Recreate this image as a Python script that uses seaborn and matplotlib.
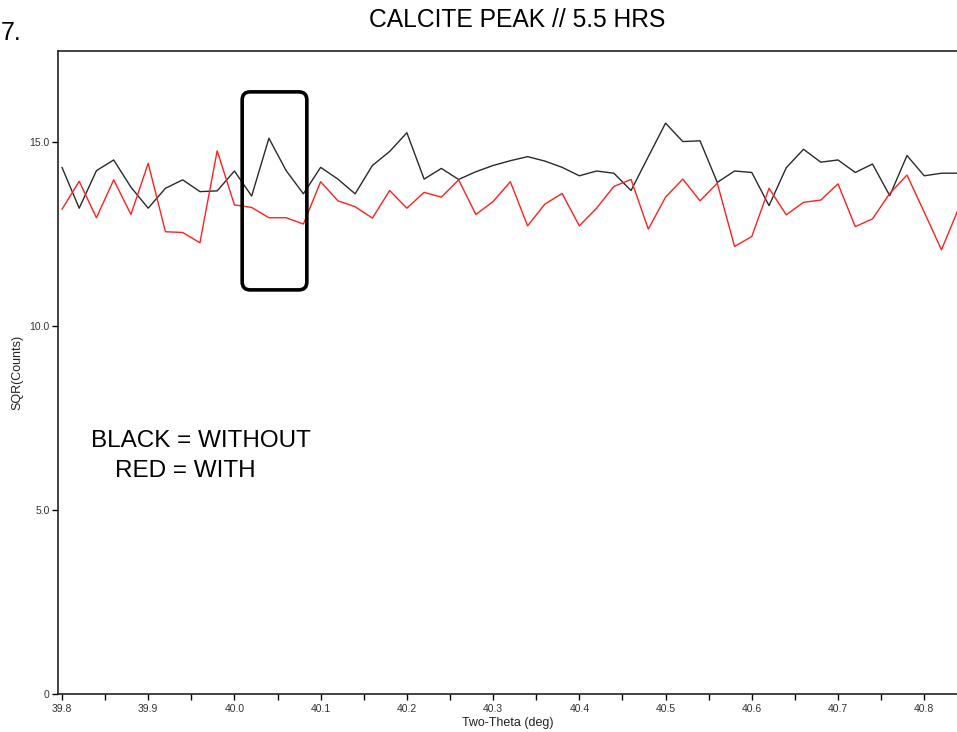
import numpy as np
import pandas as pd
import matplotlib
matplotlib.use("Agg")
import matplotlib.pyplot as plt
import matplotlib.ticker as mticker
from matplotlib.patches import FancyBboxPatch
import seaborn as sns

# ── Data ──────────────────────────────────────────────────────────────────────
TWO_THETA = [round(39.80 + 0.02 * i, 2) for i in range(53)]   # 39.80 .. 40.84

WITHOUT = [  # black trace
    14.31, 13.20, 14.22, 14.51, 13.77, 13.20, 13.74, 13.97, 13.65, 13.67,
    14.21, 13.53, 15.10, 14.22, 13.59, 14.31, 13.99, 13.59, 14.36, 14.74,
    15.25, 13.99, 14.28, 13.98, 14.19, 14.36, 14.49, 14.60, 14.48, 14.31,
    14.08, 14.21, 14.15, 13.68, 14.60, 15.51, 15.01, 15.03, 13.90, 14.21,
    14.17, 13.27, 14.30, 14.80, 14.45, 14.51, 14.17, 14.40, 13.54, 14.63,
    14.08, 14.15, 14.15,
]
WITH = [  # red trace
    13.17, 13.93, 12.94, 13.97, 13.03, 14.42, 12.56, 12.54, 12.26, 14.76,
    13.29, 13.22, 12.94, 12.94, 12.77, 13.92, 13.40, 13.24, 12.93, 13.68,
    13.20, 13.63, 13.50, 13.97, 13.03, 13.38, 13.92, 12.72, 13.31, 13.60,
    12.72, 13.20, 13.79, 13.98, 12.63, 13.50, 13.99, 13.40, 13.88, 12.16,
    12.43, 13.74, 13.02, 13.36, 13.42, 13.86, 12.70, 12.91, 13.60, 14.10,
    13.09, 12.07, 13.20,
]

X_TICKS = [39.8, 39.9, 40.0, 40.1, 40.2, 40.3, 40.4, 40.5, 40.6, 40.7, 40.8]
X_TICK_LABELS = ["39.8", "39.9", "40.0", "40.1", "40.2", "40.3", "40.4",
                 "40.5", "40.6", "40.7", "40.8"]
Y_TICKS = [0, 5, 10, 15]
Y_TICK_LABELS = ["0", "5.0", "10.0", "15.0"]

# highlighted region (deg, counts)
BOX_X = (40.009, 40.084)
BOX_Y = (10.98, 16.36)

df = pd.DataFrame({"two_theta": TWO_THETA, "without": WITHOUT, "with": WITH})

# ── Plot ──────────────────────────────────────────────────────────────────────
sns.set_style("white")
plt.rcParams["font.family"] = ["Liberation Sans", "DejaVu Sans"]

fig = plt.figure(figsize=(9.57, 7.32), dpi=100)
ax = fig.add_axes([0.0606, 0.0519, 0.9394, 0.8784])

sns.lineplot(data=df, x="two_theta", y="without", ax=ax, color="#2a2a2a",
             linewidth=1.0)
sns.lineplot(data=df, x="two_theta", y="with", ax=ax, color="#ff2020",
             linewidth=1.0)

ax.set_xlim(39.7954, 40.838)
ax.set_ylim(0, 17.47)

ax.set_xticks(X_TICKS)
ax.set_xticklabels(X_TICK_LABELS)
ax.xaxis.set_minor_locator(mticker.MultipleLocator(0.05))
ax.set_yticks(Y_TICKS)
ax.set_yticklabels(Y_TICK_LABELS)

ax.tick_params(axis="both", which="both", direction="out", length=4,
               width=1.0, color="black", labelsize=7.5, labelcolor="#333333",
               pad=2)
ax.tick_params(axis="x", which="both", bottom=True, pad=3)
ax.tick_params(axis="y", left=True)

for side in ("left", "bottom", "top"):
    ax.spines[side].set_color("#222222")
    ax.spines[side].set_linewidth(1.2)
ax.spines["right"].set_visible(False)

ax.set_xlabel("Two-Theta (deg)", fontsize=9, color="#222222", labelpad=2.5)
ax.set_ylabel("SQR(Counts)", fontsize=9, color="#222222", labelpad=4)

# rounded highlight box
rx = 0.0093
box = FancyBboxPatch((BOX_X[0], BOX_Y[0]), BOX_X[1] - BOX_X[0], BOX_Y[1] - BOX_Y[0],
                     boxstyle=f"round,pad=0,rounding_size={rx}",
                     mutation_aspect=23.4, transform=ax.transData,
                     facecolor="none", edgecolor="black", linewidth=2.6,
                     zorder=5)
ax.add_patch(box)

ax.text(0.0367, 0.384, "BLACK = WITHOUT", transform=ax.transAxes,
        fontsize=17.5, ha="left", va="baseline", color="black")
ax.text(0.0634, 0.3375, "RED = WITH", transform=ax.transAxes,
        fontsize=17.5, ha="left", va="baseline", color="black")

fig.text(0.5405, 1 - 27 / 732, "CALCITE PEAK // 5.5 HRS", fontsize=17.7,
         ha="center", va="baseline", color="black")
# slide-number fragment in the top-left corner
fig.text(1 / 957, 1 - 40 / 732, "7.", fontsize=18, ha="left",
         va="baseline", color="black")

plt.savefig("out.png", dpi=100)
plt.close()
